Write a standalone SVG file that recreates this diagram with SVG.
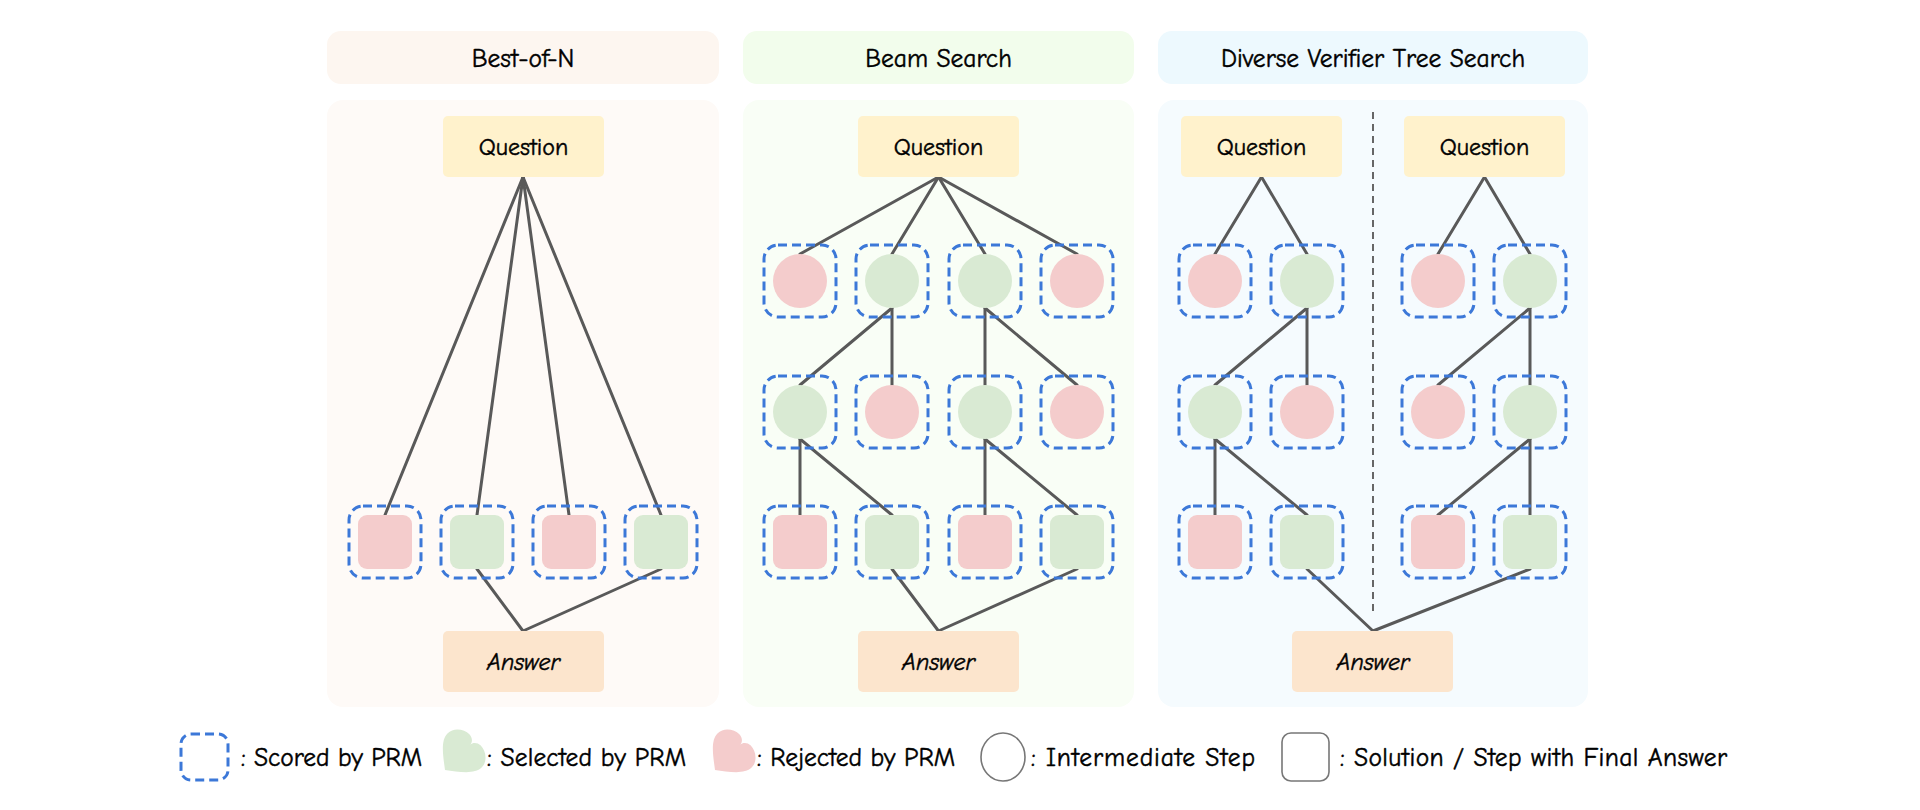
<svg xmlns="http://www.w3.org/2000/svg" width="1920" height="810" viewBox="0 0 1920 810">
<defs>
<style>
text{font-family:"Comic Sans MS","Comic Neue","Liberation Sans",sans-serif;fill:#000;stroke:#000;stroke-width:0.45;}
.hdr{font-size:25.5px;text-anchor:middle;}
.lbl{font-size:24px;text-anchor:middle;}
.ans{font-size:24px;text-anchor:middle;font-style:italic;}
.leg{font-size:25.5px;}
.q{fill:#fff2cc;}
.a{fill:#fce5cd;}
.g{fill:#d9ead3;}
.r{fill:#f4cccc;}
.dash{fill:none;stroke:#3c78d8;stroke-width:3;stroke-dasharray:9 5;}
.edge{stroke:#595959;stroke-width:3;fill:none;stroke-linecap:round;}
</style>
<path id="heart" d="M0,16 C-9,9 -21,1 -21,-8 C-21,-16 -13,-21 -7,-21 C-3,-21 0,-18 0,-15 C0,-18 3,-21 7,-21 C13,-21 21,-16 21,-8 C21,1 9,9 0,16 Z"/>
</defs>
<rect width="1920" height="810" fill="#ffffff"/>

<g id="panel-bon">
<rect x="327" y="31" width="392" height="53" rx="14" fill="#fdf6f0"/>
<text class="hdr" x="523" y="67">Best-of-N</text>
<rect x="327" y="100" width="392" height="607" rx="16" fill="#fefaf7"/>
</g>
<g id="panel-beam">
<rect x="743" y="31" width="391" height="53" rx="14" fill="#f2fdec"/>
<text class="hdr" x="938.5" y="67">Beam Search</text>
<rect x="743" y="100" width="391" height="607" rx="16" fill="#f9fef6"/>
</g>
<g id="panel-dvts">
<rect x="1158" y="31" width="430" height="53" rx="14" fill="#edf9fe"/>
<text class="hdr" x="1373" y="67">Diverse Verifier Tree Search</text>
<rect x="1158" y="100" width="430" height="607" rx="16" fill="#f5fbfe"/>
<line x1="1373" y1="112" x2="1373" y2="612" stroke="#666" stroke-width="2" stroke-dasharray="7 5"/>
</g>

<g id="connectors" class="edge">
<line x1="523" y1="177" x2="385" y2="515"/>
<line x1="523" y1="177" x2="477" y2="515"/>
<line x1="523" y1="177" x2="569" y2="515"/>
<line x1="523" y1="177" x2="661" y2="515"/>
<line x1="477" y1="569" x2="523" y2="631"/>
<line x1="661" y1="569" x2="523" y2="631"/>

<line x1="938.5" y1="177" x2="800" y2="254"/>
<line x1="938.5" y1="177" x2="892" y2="254"/>
<line x1="938.5" y1="177" x2="985" y2="254"/>
<line x1="938.5" y1="177" x2="1077" y2="254"/>
<line x1="892" y1="308" x2="800" y2="385"/>
<line x1="892" y1="308" x2="892" y2="385"/>
<line x1="985" y1="308" x2="985" y2="385"/>
<line x1="985" y1="308" x2="1077" y2="385"/>
<line x1="800" y1="439" x2="800" y2="515"/>
<line x1="800" y1="439" x2="892" y2="515"/>
<line x1="985" y1="439" x2="985" y2="515"/>
<line x1="985" y1="439" x2="1077" y2="515"/>
<line x1="892" y1="569" x2="938.5" y2="631"/>
<line x1="1077" y1="569" x2="938.5" y2="631"/>

<line x1="1261.5" y1="177" x2="1215" y2="254"/>
<line x1="1261.5" y1="177" x2="1307" y2="254"/>
<line x1="1307" y1="308" x2="1215" y2="385"/>
<line x1="1307" y1="308" x2="1307" y2="385"/>
<line x1="1215" y1="439" x2="1215" y2="515"/>
<line x1="1215" y1="439" x2="1307" y2="515"/>
<line x1="1484.5" y1="177" x2="1438" y2="254"/>
<line x1="1484.5" y1="177" x2="1530" y2="254"/>
<line x1="1530" y1="308" x2="1438" y2="385"/>
<line x1="1530" y1="308" x2="1530" y2="385"/>
<line x1="1530" y1="439" x2="1438" y2="515"/>
<line x1="1530" y1="439" x2="1530" y2="515"/>
<line x1="1307" y1="569" x2="1373" y2="631"/>
<line x1="1530" y1="569" x2="1373" y2="631"/>
</g>

<g id="bon-question"><rect class="q" x="443" y="116" width="161" height="61" rx="5"/><text class="lbl" x="523.5" y="155">Question</text></g>
<g id="bon-s1"><rect class="dash" x="349" y="506" width="72" height="72" rx="14"/><rect class="r" x="358" y="515" width="54" height="54" rx="9"/></g>
<g id="bon-s2"><rect class="dash" x="441" y="506" width="72" height="72" rx="14"/><rect class="g" x="450" y="515" width="54" height="54" rx="9"/></g>
<g id="bon-s3"><rect class="dash" x="533" y="506" width="72" height="72" rx="14"/><rect class="r" x="542" y="515" width="54" height="54" rx="9"/></g>
<g id="bon-s4"><rect class="dash" x="625" y="506" width="72" height="72" rx="14"/><rect class="g" x="634" y="515" width="54" height="54" rx="9"/></g>
<g id="bon-answer"><rect class="a" x="443" y="631" width="161" height="61" rx="5"/><text class="ans" x="523.5" y="670">Answer</text></g>

<g id="beam-question"><rect class="q" x="858" y="116" width="161" height="61" rx="5"/><text class="lbl" x="938.5" y="155">Question</text></g>
<g id="beam-a1"><rect class="dash" x="764" y="245" width="72" height="72" rx="14"/><circle class="r" cx="800" cy="281" r="27"/></g>
<g id="beam-a2"><rect class="dash" x="856" y="245" width="72" height="72" rx="14"/><circle class="g" cx="892" cy="281" r="27"/></g>
<g id="beam-a3"><rect class="dash" x="949" y="245" width="72" height="72" rx="14"/><circle class="g" cx="985" cy="281" r="27"/></g>
<g id="beam-a4"><rect class="dash" x="1041" y="245" width="72" height="72" rx="14"/><circle class="r" cx="1077" cy="281" r="27"/></g>
<g id="beam-b1"><rect class="dash" x="764" y="376" width="72" height="72" rx="14"/><circle class="g" cx="800" cy="412" r="27"/></g>
<g id="beam-b2"><rect class="dash" x="856" y="376" width="72" height="72" rx="14"/><circle class="r" cx="892" cy="412" r="27"/></g>
<g id="beam-b3"><rect class="dash" x="949" y="376" width="72" height="72" rx="14"/><circle class="g" cx="985" cy="412" r="27"/></g>
<g id="beam-b4"><rect class="dash" x="1041" y="376" width="72" height="72" rx="14"/><circle class="r" cx="1077" cy="412" r="27"/></g>
<g id="beam-c1"><rect class="dash" x="764" y="506" width="72" height="72" rx="14"/><rect class="r" x="773" y="515" width="54" height="54" rx="9"/></g>
<g id="beam-c2"><rect class="dash" x="856" y="506" width="72" height="72" rx="14"/><rect class="g" x="865" y="515" width="54" height="54" rx="9"/></g>
<g id="beam-c3"><rect class="dash" x="949" y="506" width="72" height="72" rx="14"/><rect class="r" x="958" y="515" width="54" height="54" rx="9"/></g>
<g id="beam-c4"><rect class="dash" x="1041" y="506" width="72" height="72" rx="14"/><rect class="g" x="1050" y="515" width="54" height="54" rx="9"/></g>
<g id="beam-answer"><rect class="a" x="858" y="631" width="161" height="61" rx="5"/><text class="ans" x="938.5" y="670">Answer</text></g>

<g id="dvts-question-1"><rect class="q" x="1181" y="116" width="161" height="61" rx="5"/><text class="lbl" x="1261.5" y="155">Question</text></g>
<g id="dvts-question-2"><rect class="q" x="1404" y="116" width="161" height="61" rx="5"/><text class="lbl" x="1484.5" y="155">Question</text></g>
<g id="dvts-l-a1"><rect class="dash" x="1179" y="245" width="72" height="72" rx="14"/><circle class="r" cx="1215" cy="281" r="27"/></g>
<g id="dvts-l-a2"><rect class="dash" x="1271" y="245" width="72" height="72" rx="14"/><circle class="g" cx="1307" cy="281" r="27"/></g>
<g id="dvts-l-b1"><rect class="dash" x="1179" y="376" width="72" height="72" rx="14"/><circle class="g" cx="1215" cy="412" r="27"/></g>
<g id="dvts-l-b2"><rect class="dash" x="1271" y="376" width="72" height="72" rx="14"/><circle class="r" cx="1307" cy="412" r="27"/></g>
<g id="dvts-l-c1"><rect class="dash" x="1179" y="506" width="72" height="72" rx="14"/><rect class="r" x="1188" y="515" width="54" height="54" rx="9"/></g>
<g id="dvts-l-c2"><rect class="dash" x="1271" y="506" width="72" height="72" rx="14"/><rect class="g" x="1280" y="515" width="54" height="54" rx="9"/></g>
<g id="dvts-r-a1"><rect class="dash" x="1402" y="245" width="72" height="72" rx="14"/><circle class="r" cx="1438" cy="281" r="27"/></g>
<g id="dvts-r-a2"><rect class="dash" x="1494" y="245" width="72" height="72" rx="14"/><circle class="g" cx="1530" cy="281" r="27"/></g>
<g id="dvts-r-b1"><rect class="dash" x="1402" y="376" width="72" height="72" rx="14"/><circle class="r" cx="1438" cy="412" r="27"/></g>
<g id="dvts-r-b2"><rect class="dash" x="1494" y="376" width="72" height="72" rx="14"/><circle class="g" cx="1530" cy="412" r="27"/></g>
<g id="dvts-r-c1"><rect class="dash" x="1402" y="506" width="72" height="72" rx="14"/><rect class="r" x="1411" y="515" width="54" height="54" rx="9"/></g>
<g id="dvts-r-c2"><rect class="dash" x="1494" y="506" width="72" height="72" rx="14"/><rect class="g" x="1503" y="515" width="54" height="54" rx="9"/></g>
<g id="dvts-answer"><rect class="a" x="1292" y="631" width="161" height="61" rx="5"/><text class="ans" x="1373" y="670">Answer</text></g>

<g id="legend">
<rect class="dash" x="181" y="734" width="47" height="46" rx="10"/>
<text class="leg" x="241" y="766" textLength="181">: Scored by PRM</text>
<use href="#heart" class="g" transform="translate(458,757) rotate(45) scale(1.15)"/>
<text class="leg" x="487" y="766" textLength="199">: Selected by PRM</text>
<use href="#heart" class="r" transform="translate(728,757) rotate(45) scale(1.15)"/>
<text class="leg" x="757" y="766" textLength="198">: Rejected by PRM</text>
<ellipse cx="1003" cy="757" rx="22" ry="24" fill="#fff" stroke="#777" stroke-width="1.6"/>
<text class="leg" x="1031" y="766" textLength="224">: Intermediate Step</text>
<rect x="1282" y="733" width="47" height="48" rx="9" fill="#fff" stroke="#777" stroke-width="1.6"/>
<text class="leg" x="1340" y="766" textLength="387">: Solution / Step with Final Answer</text>
</g>
</svg>
